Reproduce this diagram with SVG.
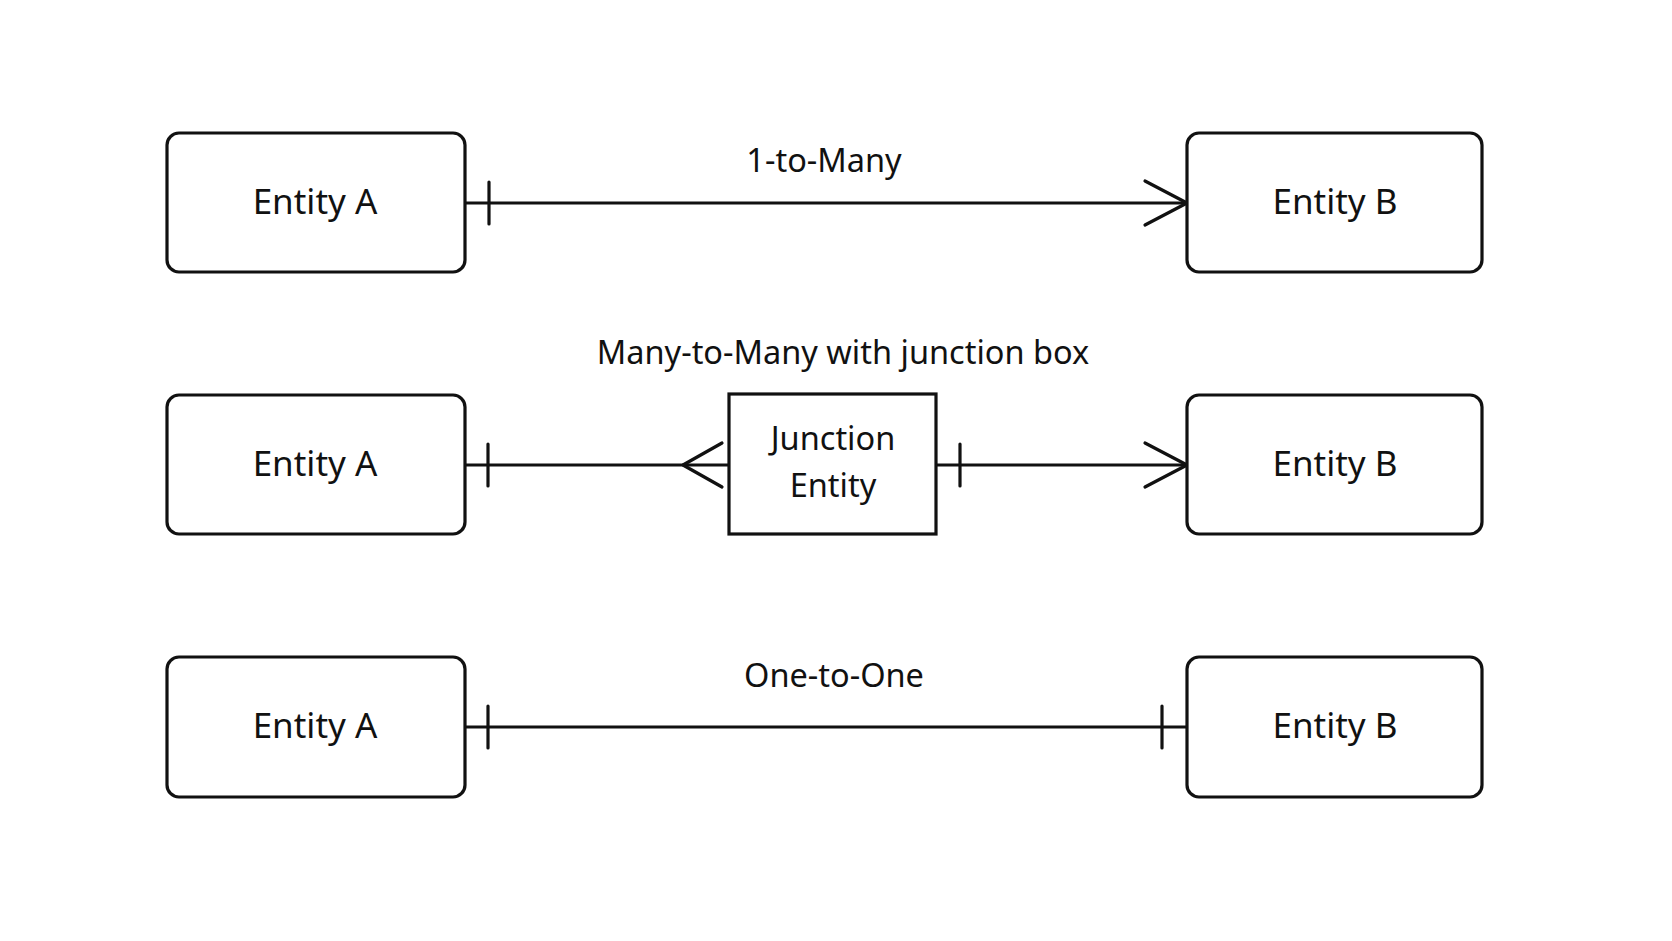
<svg xmlns="http://www.w3.org/2000/svg" width="1672" height="941" viewBox="0 0 1672 941">
<style>
.box{fill:#fff;stroke:#111;stroke-width:3.2}
.ln{fill:none;stroke:#111;stroke-width:3.2;stroke-linecap:round;stroke-linejoin:round}
text{font-family:"Noto Sans","Open Sans","DejaVu Sans",sans-serif;fill:#111;text-anchor:middle}
.nt{font-size:35px}
.lb{font-size:32.5px}
</style>
<rect width="1672" height="941" fill="#fff"/>
<g id="connectors">
<line class="ln" x1="465" y1="203" x2="1187" y2="203"/>
<line class="ln" x1="489" y1="182" x2="489" y2="224"/>
<polyline class="ln" points="1145,181 1187,203 1145,225"/>
<line class="ln" x1="465" y1="465" x2="729" y2="465"/>
<line class="ln" x1="488" y1="444" x2="488" y2="486"/>
<polyline class="ln" points="722,443 683,465 722,487"/>
<line class="ln" x1="936" y1="465" x2="1187" y2="465"/>
<line class="ln" x1="960" y1="444" x2="960" y2="486"/>
<polyline class="ln" points="1145,443 1187,465 1145,487"/>
<line class="ln" x1="465" y1="727" x2="1187" y2="727"/>
<line class="ln" x1="488" y1="706" x2="488" y2="748"/>
<line class="ln" x1="1162" y1="706" x2="1162" y2="748"/>
<text class="lb" x="824" y="172">1-to-Many</text>
<text class="lb" x="843" y="364">Many-to-Many with junction box</text>
<text class="lb" x="834" y="687">One-to-One</text>
</g>
<g id="entityA1"><rect class="box" x="167" y="133" width="298" height="139" rx="12"/><text class="nt" x="315" y="214">Entity A</text></g>
<g id="entityB1"><rect class="box" x="1187" y="133" width="295" height="139" rx="12"/><text class="nt" x="1335" y="214">Entity B</text></g>
<g id="entityA2"><rect class="box" x="167" y="395" width="298" height="139" rx="12"/><text class="nt" x="315" y="476">Entity A</text></g>
<g id="junction"><rect class="box" x="729" y="394" width="207" height="140"/><text class="lb" x="833" y="450">Junction</text><text class="lb" x="833" y="497">Entity</text></g>
<g id="entityB2"><rect class="box" x="1187" y="395" width="295" height="139" rx="12"/><text class="nt" x="1335" y="476">Entity B</text></g>
<g id="entityA3"><rect class="box" x="167" y="657" width="298" height="140" rx="12"/><text class="nt" x="315" y="738">Entity A</text></g>
<g id="entityB3"><rect class="box" x="1187" y="657" width="295" height="140" rx="12"/><text class="nt" x="1335" y="738">Entity B</text></g>
</svg>
